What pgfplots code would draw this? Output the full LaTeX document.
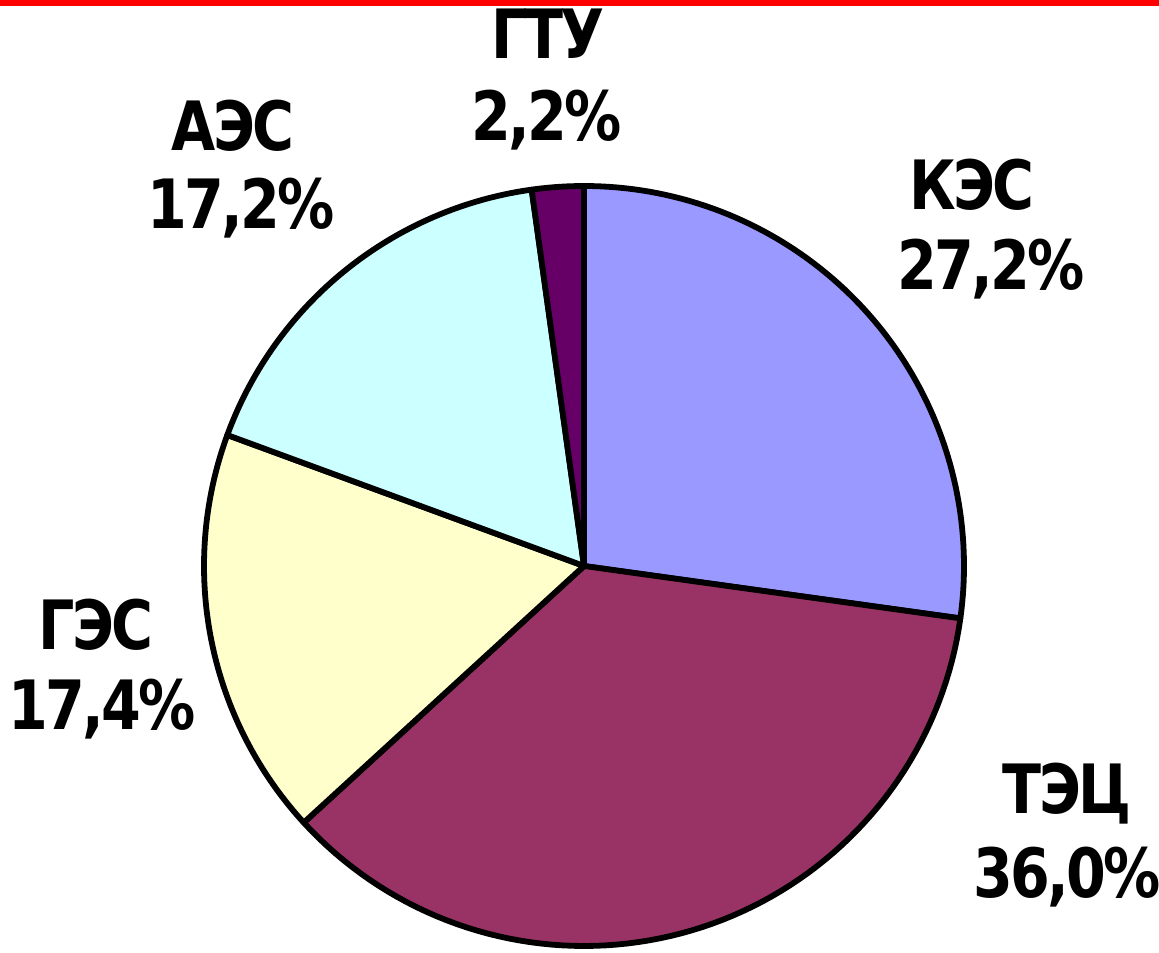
\documentclass[border=0pt]{standalone}
\usepackage{pgfplots}
\pgfplotsset{compat=1.18}
\usepackage{fontspec}
\setmainfont{DejaVu Sans}[FakeStretch=0.84, LetterSpace=-4]
\definecolor{kes}{HTML}{9999FF}
\definecolor{tec}{HTML}{993366}
\definecolor{ges}{HTML}{FFFFCC}
\definecolor{aes}{HTML}{CCFFFF}
\definecolor{gtu}{HTML}{660066}
% shares, %
\def\vKES{27.2}\def\vTEC{36.0}\def\vGES{17.4}\def\vAES{17.2}\def\vGTU{2.2}
\pgfmathsetmacro\aA{90}
\pgfmathsetmacro\aB{\aA-3.6*\vKES}
\pgfmathsetmacro\aC{\aB-3.6*\vTEC}
\pgfmathsetmacro\aD{\aC-3.6*\vGES}
\pgfmathsetmacro\aE{\aD-3.6*\vAES}
\pgfmathsetmacro\aF{\aE-3.6*\vGTU}
\newcommand\lab[1]{{\fontsize{34}{38}\selectfont\bfseries #1}}
\begin{document}
\begin{tikzpicture}
\begin{axis}[
  scale only axis, width=579.5pt, height=476pt,
  xmin=0, xmax=1159, ymin=0, ymax=952,
  hide axis, clip=false,
]
\def\cx{584}\def\cy{386}\def\r{380}
\pgfplotsset{slice/.style={draw=black, line width=2.9pt, line join=round, samples=80, variable=\t}}
\addplot[slice, fill=kes, domain=\aB:\aA] ({\cx+\r*cos(\t)},{\cy+\r*sin(\t)}) -- (axis cs:\cx,\cy) -- cycle;
\addplot[slice, fill=tec, domain=\aC:\aB] ({\cx+\r*cos(\t)},{\cy+\r*sin(\t)}) -- (axis cs:\cx,\cy) -- cycle;
\addplot[slice, fill=ges, domain=\aD:\aC] ({\cx+\r*cos(\t)},{\cy+\r*sin(\t)}) -- (axis cs:\cx,\cy) -- cycle;
\addplot[slice, fill=aes, domain=\aE:\aD] ({\cx+\r*cos(\t)},{\cy+\r*sin(\t)}) -- (axis cs:\cx,\cy) -- cycle;
\addplot[slice, fill=gtu, domain=\aF:\aE, samples=10] ({\cx+\r*cos(\t)},{\cy+\r*sin(\t)}) -- (axis cs:\cx,\cy) -- cycle;
\addplot[red, line width=3pt] coordinates {(0,949) (1159,949)};
\tikzset{L/.style={anchor=base, inner sep=0pt}}
\node[L] at (axis cs:548,893) {\lab{ГТУ}};
\node[L] at (axis cs:547,811) {\lab{2,2\%}};
\node[L] at (axis cs:233,801) {\lab{АЭС}};
\node[L] at (axis cs:241,723) {\lab{17,2\%}};
\node[L] at (axis cs:972,742) {\lab{КЭС}};
\node[L] at (axis cs:991,662) {\lab{27,2\%}};
\node[L] at (axis cs:96,302) {\lab{ГЭС}};
\node[L] at (axis cs:102,222) {\lab{17,4\%}};
\node[L] at (axis cs:1067,139) {\lab{ТЭЦ}};
\node[L] at (axis cs:1067,55) {\lab{36,0\%}};
\end{axis}
\pgfresetboundingbox
\path (current axis.south west) rectangle (current axis.north east);
\end{tikzpicture}
\end{document}
